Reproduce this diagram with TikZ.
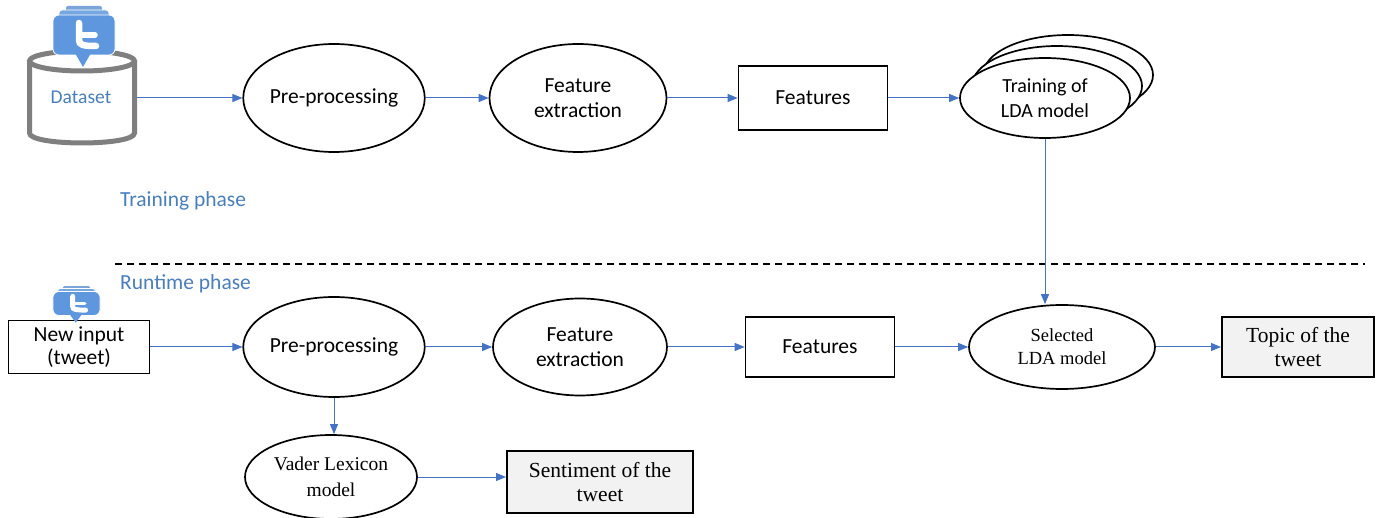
\documentclass[tikz,border=0pt]{standalone}
\usepackage{fontspec}
\setmainfont{Carlito}
\newfontfamily\tmsf{Liberation Serif}
\usetikzlibrary{shapes.geometric,arrows.meta}
\definecolor{arrowblue}{HTML}{4472C4}
\definecolor{labelblue}{HTML}{4A7EBB}
\definecolor{icoblue}{HTML}{5E97DD}
\definecolor{icodark}{HTML}{4F86CC}
\definecolor{cylgray}{HTML}{7F7F7F}
\definecolor{boxgray}{HTML}{F2F2F2}
\newcommand\twicon[4]{%
\begin{scope}[shift={(#1,#2)},xscale=#3,yscale=#4]
 \fill[icodark!75!white,rounded corners=2pt] (-18,-29) rectangle (18,-20);
 \draw[white,line width=0.8pt,fill=icoblue!85!white,rounded corners=3pt] (-25,-25) rectangle (25,-16);
 \draw[white,line width=0.8pt,fill=icoblue,rounded corners=6pt] (-31,-20) rectangle (31,20);
 \fill[icoblue] (-9,18) -- (7,18) -- (-1,32) -- cycle;
 \draw[white,line width=6.5pt*#3,line cap=round] (-5,-12) -- (-5,5) .. controls (-5,10) and (-1,11) .. (12,11);
 \draw[white,line width=5.5pt*#4,line cap=round] (-5,0) -- (11,0);
\end{scope}}
\begin{document}
\begin{tikzpicture}[x=1pt,y=-1pt,
  proc/.style={ellipse,draw=black,line width=1.7pt,fill=white,inner sep=0pt,align=center,font=\fontsize{21.5}{25}\selectfont},
  rbox/.style={rectangle,draw=black,line width=1.7pt,fill=white,inner sep=0pt,align=center,font=\fontsize{21.5}{23}\selectfont},
  obox/.style={rectangle,draw=black,line width=2pt,fill=boxgray,inner sep=0pt,align=center,font=\tmsf\fontsize{21.5}{24}\selectfont},
  flow/.style={draw=arrowblue,line width=1pt,-{Triangle[length=10pt,width=8pt]}},
  phase/.style={text=labelblue,font=\fontsize{21.5}{25}\selectfont,anchor=west,inner sep=0pt},
  sepline/.style={draw=black,line width=1.5pt,dash pattern=on 7pt off 5pt}
]
\useasboundingbox (0,0) rectangle (1382,518);
% dataset cylinder
\draw[cylgray,line width=5pt,fill=white] (29.5,61) -- (29.5,133) .. controls (29.5,146.3) and (134.5,146.3) .. (134.5,133) -- (134.5,61);
\draw[cylgray,line width=5pt,fill=white] (82,61) ellipse[x radius=52.5,y radius=10];
\node[minimum width=110pt,minimum height=90pt,inner sep=0pt] (ds) at (82,98) {};
\node[text=labelblue,font=\fontsize{19.5}{22}\selectfont] (dstxt) at (81,97) {Dataset};
\twicon{84}{35}{1}{1}
% top row
\node[proc,minimum width=178pt,minimum height=108pt] (pp1) at (334,98) {Pre-processing};
\node[proc,minimum width=177pt,minimum height=108pt] (fe1) at (578,98) {Feature\\extraction};
\node[rbox,minimum width=149pt,minimum height=64pt] (ft1) at (813,98) {Features};
\node[proc,minimum width=170pt,minimum height=80pt] (trb2) at (1068,75) {};
\node[proc,minimum width=170pt,minimum height=80pt] (trb1) at (1057,86) {};
\node[proc,minimum width=170pt,minimum height=80pt,font=\fontsize{20}{25}\selectfont] (tr) at (1045,98) {Training of\\LDA model};
% phase labels
\node[phase] (trph) at (120,201) {Training phase};
\node[phase] (rtph) at (120,284) {Runtime phase};
\coordinate (dl) at (115,264);
\coordinate (dr) at (1365,264);
\draw[sepline] (dl) -- (dr);
% bottom row
\node[rbox,minimum width=141pt,minimum height=53pt] (ni) at (79,347) {New input\\(tweet)};
\twicon{76.5}{303.5}{0.76}{0.6}
\node[proc,minimum width=178pt,minimum height=100pt] (pp2) at (334,347) {Pre-processing};
\node[proc,minimum width=174pt,minimum height=97pt] (fe2) at (580,347) {Feature\\extraction};
\node[rbox,minimum width=149pt,minimum height=60pt] (ft2) at (820,347) {Features};
\node[proc,minimum width=186pt,minimum height=84pt,font=\tmsf\fontsize{18.5}{23}\selectfont] (sel) at (1062,347) {Selected\\LDA model};
\node[obox,minimum width=152pt,minimum height=60pt] (top) at (1298,347) {Topic of the\\tweet};
\node[proc,minimum width=172pt,minimum height=84pt,font=\tmsf\fontsize{19.5}{26}\selectfont] (vd) at (331,477) {Vader Lexicon\\model};
\node[obox,minimum width=186pt,minimum height=61pt] (se) at (600,482) {Sentiment of the\\tweet};
% connectors
\draw[flow] (ds.east) -- (pp1.west);
\draw[flow] (pp1.east) -- (fe1.west);
\draw[flow] (fe1.east) -- (ft1.west);
\draw[flow] (ft1.east) -- (tr.west);
\draw[flow] (tr.south) -- (tr.south |- sel.north);
\draw[flow] (ni.east) -- (pp2.west);
\draw[flow] (pp2.east) -- (fe2.west);
\draw[flow] (fe2.east) -- (ft2.west);
\draw[flow] (ft2.east) -- (sel.west);
\draw[flow] (sel.east) -- (top.west);
\draw[flow] (pp2.south) -- (pp2.south |- vd.north);
\draw[flow] (vd.east) -- (vd.east -| se.west);
\end{tikzpicture}
\end{document}
